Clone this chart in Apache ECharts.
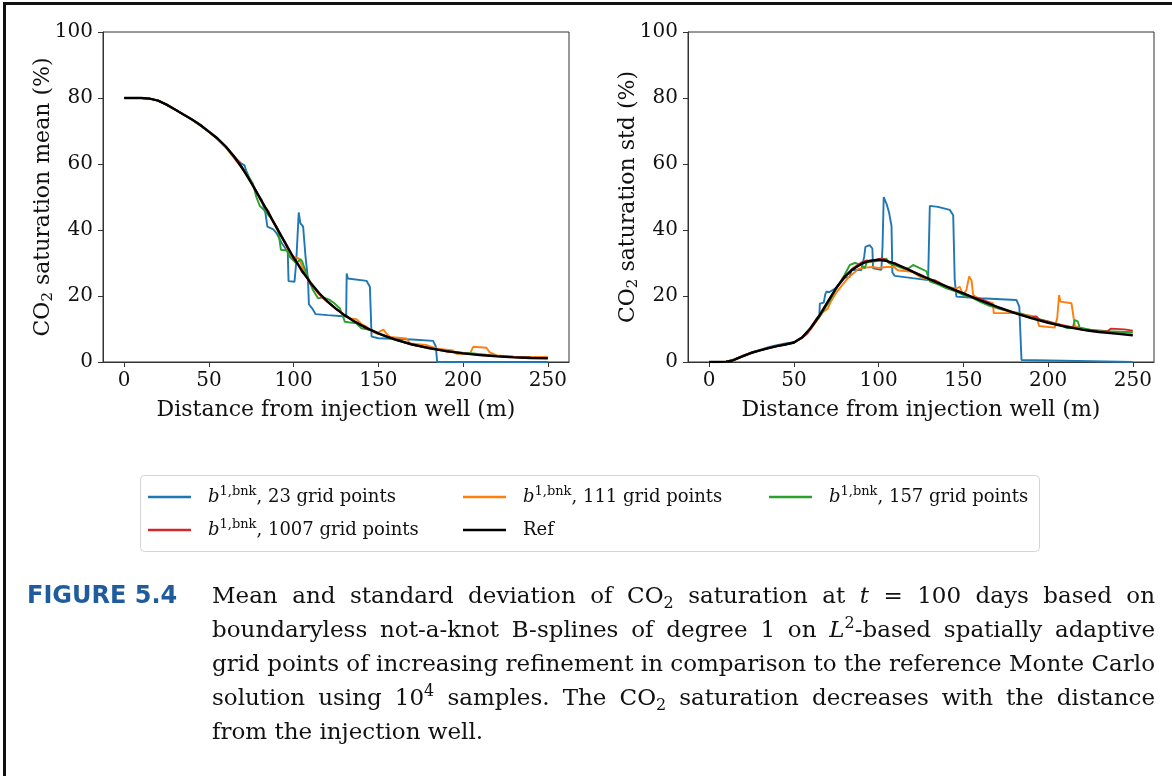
<!DOCTYPE html>
<html><head><meta charset="utf-8">
<script src="https://cdn.jsdelivr.net/npm/echarts@6/dist/echarts.min.js"></script>
<style>html,body{margin:0;padding:0;background:#fff}#c{width:1172px;height:776px}</style>
</head><body><div id="c"></div>
<script>
// ---------------- data ----------------
const xTicks = [0, 50, 100, 150, 200, 250];
const yLabelMean = 'CO{sub|2} saturation mean (%)';
const yLabelStd = 'CO{sub|2} saturation std (%)';
const xLabel = 'Distance from injection well (m)';
const seriesNames = ['b^1,bnk, 23 grid points', 'b^1,bnk, 111 grid points', 'b^1,bnk, 157 grid points', 'b^1,bnk, 1007 grid points', 'Ref'];
const legendTexts = ['23 grid points', '111 grid points', '157 grid points', '1007 grid points', 'Ref'];
const seriesColors = ['#1f77b4', '#ff7f0e', '#2ca02c', '#d62728', '#000000'];

// mean (left panel)
const blueMean = [[0,80],[10,80],[15,79.8],[20,79.2],[25,78],[30,76.5],[40,73.5],[50,69.8],[60,65.2],[65,62.2],[69,60.2],[71,59.6],[72,58],[75,54.5],[78,51.6],[81,49.2],[83.4,45],[84.5,41],[88,40.2],[90,39],[93,36],[96.5,33.5],[97,24.5],[100.5,24.3],[101.5,30],[103,45.3],[104,42],[105.6,41],[107,32],[108.5,24.8],[109,17.5],[111,16.2],[113,14.5],[120,14.2],[131,13.8],[131.3,26.8],[132,25.3],[143,24.6],[145,22.8],[146,7.7],[150,7.2],[170,6.8],[182.3,6.4],[183.9,4.7],[184.7,0],[250,0]];
const orangeMean = [[0,80],[10,80],[15,79.8],[20,79.2],[25,78],[30,76.5],[40,73.5],[50,69.8],[55,67.6],[60,65],[63,63],[66,61],[70,58.5],[75,54.5],[80,49.8],[85,45.5],[90,40.3],[95,36],[97,33.5],[98.5,32.2],[103,31.4],[105,29],[108,25.5],[110,23.7],[115,20.5],[120,18.2],[125,16.2],[130,14.2],[133,13.2],[137,13],[140,11.5],[143,10.7],[146,9.4],[149,8.6],[151,9.3],[153,9.8],[155,8.5],[156.7,7.6],[166.6,7.1],[168.6,5.6],[178,5.2],[185,4],[194,3.5],[196,2.5],[204,2.5],[206,4.6],[213.8,4.3],[215.7,2.9],[220,2],[230,1.6],[240,1.5],[250,1.5]];
const greenMean = [[0,80],[10,80],[15,79.8],[20,79.2],[25,78],[30,76.5],[40,73.5],[50,69.8],[55,67.6],[60,65],[65,62],[70,58.8],[73,56.5],[76,54],[78,50],[80,47.3],[83,45.8],[86,44],[88,42.5],[90.8,40],[92.5,34],[96,33.8],[97.7,31.9],[101.6,29.9],[104,31.2],[105,30.5],[107.5,26.9],[111.4,21.8],[114.4,19.3],[117.5,19.6],[121,18.9],[124,17.8],[127.2,16.3],[129,14],[130.2,12.2],[137,11.7],[140,10.2],[146.9,9.5],[150,8.6],[155,7.6],[160,6.7],[170,5.3],[180,4.1],[190,3.3],[200,2.8],[206,2.6],[210,2.4],[217.7,2],[220,1.8],[230,1.5],[240,1.3],[250,1.2]];
const redMean = [[0,80],[10,80],[15,79.8],[20,79.2],[25,78],[30,76.5],[35,75],[40,73.5],[45,71.8],[50,69.7],[55,67.7],[60,65.2],[65,62],[68,60.5],[70,58.3],[72,57],[75,54.3],[78,51.8],[80,49.5],[83,47],[85,45.8],[88,42.3],[90,40.8],[92,38.6],[95,36.3],[97,34.2],[100,31.3],[103,29.4],[105,27.2],[108,25.6],[110,23.5],[113,21.9],[115,20.6],[118,19.1],[120,18.4],[125,16.1],[128,15.1],[130,14.2],[133,13.3],[135,12.4],[140,11.2],[142,10.3],[145,9.9],[150,8.6],[160,6.9],[170,5.2],[180,4.3],[190,3.2],[200,2.7],[210,2.1],[220,1.8],[230,1.5],[240,1.3],[250,1.2]];
const refMean = [[0,80],[5,80],[10,80],[15,79.8],[20,79.2],[25,78],[30,76.5],[35,75],[40,73.5],[45,71.8],[50,69.8],[55,67.8],[60,65.3],[65,62.2],[70,58.5],[75,54.3],[80,49.8],[85,45.3],[90,40.7],[95,36.1],[100,31.6],[105,27.6],[110,24],[115,20.9],[120,18.3],[125,16.1],[130,14.2],[135,12.6],[140,11.1],[145,9.8],[150,8.7],[155,7.7],[160,6.8],[170,5.3],[180,4.2],[190,3.3],[200,2.6],[210,2.1],[220,1.7],[230,1.4],[240,1.2],[250,1.1]];

// std (right panel)
const blueStd = [[0,0],[10,0.1],[15,0.8],[20,1.9],[25,2.9],[30,3.7],[35,4.5],[40,5.1],[45,5.6],[50,6],[55,7.5],[60,10.3],[63,12.5],[65,13.9],[65.3,17.7],[67.6,18],[68.5,20.5],[69.2,21.3],[71,21.2],[75,22.5],[80,25.5],[83,25.8],[83.9,27.9],[89.8,27.9],[91.5,32],[92.2,34.9],[94.7,35.4],[96.3,34.4],[96.7,28.4],[101.6,27.9],[102.3,35],[103,50],[104.6,48],[106.2,45.2],[107.6,41.2],[108.1,27.1],[109.5,26.1],[120,25.4],[129.2,24.8],[130.2,47.3],[135,47],[142,46.1],[144,44.5],[144.9,24.8],[145.9,19.8],[160,19.3],[181.3,18.8],[183,16.8],[184.3,0.6],[185.3,0],[250,0]];
const orangeStd = [[0,0],[10,0.1],[15,0.7],[20,1.8],[25,2.8],[30,3.5],[40,4.8],[50,5.9],[55,7.3],[60,10],[65,13.5],[67,15],[70,16.2],[72,18.5],[75,21],[78,23],[82,25.5],[85,26.8],[88,28.2],[92,28.6],[96,28.8],[100,28.5],[104.7,28.8],[109,28.8],[111.3,27.8],[120,27.3],[124.5,25.8],[130.2,24.8],[140,22.8],[145.9,22.3],[147.9,22.8],[149.9,20.3],[151.8,21.8],[153.4,25.9],[154.8,24.8],[155.8,20.3],[160,18.9],[167.5,17.8],[167.9,14.8],[175.4,14.8],[180,14.9],[193.1,13.7],[194.7,10.9],[203.9,10.4],[205.4,13.4],[206.5,20.3],[207.3,18.3],[213.8,17.8],[215.8,10.9],[218.7,10.4],[225,9.5],[235,9.1],[250,8.9]];
const greenStd = [[0,0],[10,0.1],[15,0.7],[20,1.8],[25,2.8],[30,3.5],[40,4.8],[50,5.8],[55,7.6],[60,10.5],[65,13.7],[70,17.6],[75,22.2],[80,26.5],[83,29.4],[86,30],[89,29.6],[91.8,28.4],[93,30.2],[98,30.5],[101,30.8],[104.6,31.3],[106,30],[110,29.2],[115,28.2],[118,28.5],[120.3,29.4],[124,28.5],[128.2,27.5],[130.2,24.4],[135,23.5],[140,22.3],[145,21.5],[150,20.3],[155,19.5],[160,18.2],[165,17.1],[170,16.3],[177.4,15.3],[183.4,14.8],[190,13.6],[200,12.3],[207,11.3],[210.9,10.3],[214.5,10.3],[215.8,12.7],[217.5,12.3],[218.7,10.4],[225,9.8],[235,9.3],[250,9]];
const redStd = [[0,0],[10,0.1],[15,0.8],[20,1.9],[25,2.8],[30,3.5],[35,4.2],[40,4.8],[45,5.3],[50,5.9],[55,7.4],[58,8.6],[60,10.6],[63,12.9],[65,14.2],[70,18.4],[75,22.3],[80,26],[85,28.5],[90,30.2],[93,30.8],[95,30.4],[100,31.2],[103,31.3],[105,30.5],[110,29.9],[115,28.5],[120,27.5],[125,26.4],[130,25],[133,24.8],[135,24.3],[140,22.8],[145,21.9],[150,20.9],[155,19.6],[160,19.2],[163,18.5],[170,16.6],[180,15],[190,13.4],[193,13.8],[195,12.8],[200,12.2],[205,11.5],[210,11],[215,10.5],[220,9.8],[225,9.3],[230,9.2],[235,9.3],[237,10.1],[245,9.9],[250,9.5]];
const refStd = [[0,0],[5,0],[10,0.1],[13,0.3],[15,0.7],[20,1.8],[25,2.8],[30,3.5],[35,4.2],[40,4.8],[45,5.3],[50,5.9],[55,7.5],[60,10.3],[65,14],[70,18.2],[75,22.5],[80,25.8],[85,28.2],[90,29.8],[95,30.7],[100,31],[105,30.6],[110,29.7],[115,28.6],[120,27.4],[125,26.2],[130,25.1],[135,24],[140,22.9],[145,21.8],[150,20.8],[160,18.7],[170,16.7],[180,14.9],[190,13.3],[200,11.9],[210,10.7],[220,9.8],[230,9.1],[240,8.6],[250,8.1]];

const figureLabel = 'FIGURE 5.4';
const captionLines = [
  ['Mean','and','standard','deviation','of','CO{sub|2}','saturation','at','{it|t}','=','100','days','based','on'],
  ['boundaryless','not-a-knot','B-splines','of','degree','1','on','{it|L}{sup|2}-based','spatially','adaptive'],
  ['grid','points','of','increasing','refinement','in','comparison','to','the','reference','Monte','Carlo'],
  ['solution','using','10{sup|4}','samples.','The','CO{sub|2}','saturation','decreases','with','the','distance'],
  ['from','the','injection','well.']
];

// ---------------- chart ----------------
const SERIF = 'DejaVu Serif';
const INK = '#111';
const AX = '#333';
const chart = echarts.init(document.getElementById('c'), null, {renderer: 'canvas'});

const grids = [
  {left: 103, top: 32, width: 466, height: 330, show: true, borderColor: AX, borderWidth: 1, backgroundColor: 'transparent'},
  {left: 688, top: 32, width: 466, height: 330, show: true, borderColor: AX, borderWidth: 1, backgroundColor: 'transparent'}
];
function mkX(gi) {
  return {
    type: 'value', gridIndex: gi, min: -12.5, max: 262.5,
    name: xLabel, nameLocation: 'middle', nameGap: 35, nameMoveOverlap: false,
    nameTextStyle: {fontFamily: SERIF, fontSize: 22, color: INK, lineHeight: 26},
    axisLine: {show: true, onZero: false, lineStyle: {color: AX, width: 1}},
    axisTick: {show: true, inside: false, length: 5, customValues: xTicks, lineStyle: {color: AX, width: 1}},
    axisLabel: {show: true, customValues: xTicks, fontFamily: SERIF, fontSize: 20, color: INK, margin: 7, lineHeight: 24},
    splitLine: {show: false}
  };
}
function mkY(gi, label) {
  return {
    type: 'value', gridIndex: gi, min: 0, max: 100, interval: 20,
    name: label, nameLocation: 'middle', nameGap: 47, nameMoveOverlap: false,
    nameTextStyle: {fontFamily: SERIF, fontSize: 22, color: INK, lineHeight: 26,
      rich: {sub: {fontFamily: SERIF, fontSize: 15, color: INK, verticalAlign: 'bottom', lineHeight: 14}}},
    axisLine: {show: true, onZero: false, lineStyle: {color: AX, width: 1}},
    axisTick: {show: true, inside: false, length: 5, lineStyle: {color: AX, width: 1}},
    axisLabel: {fontFamily: SERIF, fontSize: 20, color: INK, margin: 10},
    splitLine: {show: false}
  };
}

const meanData = [blueMean, orangeMean, greenMean, redMean, refMean];
const stdData = [blueStd, orangeStd, greenStd, redStd, refStd];
const series = [];
[meanData, stdData].forEach((set, gi) => {
  set.forEach((d, i) => {
    series.push({
      type: 'line', name: seriesNames[i], xAxisIndex: gi, yAxisIndex: gi,
      data: d, showSymbol: false, symbol: 'none', clip: true,
      lineStyle: {color: seriesColors[i], width: i === 4 ? 2.4 : 1.9},
      itemStyle: {color: seriesColors[i]},
      z: 2 + i, animation: false, emphasis: {disabled: true}
    });
  });
});

// legends (one per entry, arranged in matplotlib-like columns)
const legendPos = [[148, 485], [463, 485], [769, 485], [148, 518], [463, 518]];
const legendRich = {
  b: {fontFamily: SERIF, fontSize: 18, fontStyle: 'italic', color: INK, lineHeight: 24, padding: [0, 0, 0, 12]},
  sup: {fontFamily: SERIF, fontSize: 13, color: INK, verticalAlign: 'top', lineHeight: 13},
  t: {fontFamily: SERIF, fontSize: 18, color: INK, lineHeight: 24},
  r: {fontFamily: SERIF, fontSize: 18, color: INK, lineHeight: 24, padding: [0, 0, 0, 12]}
};
const legends = seriesNames.map((nm, i) => ({
  data: [nm], left: legendPos[i][0], top: legendPos[i][1], padding: 0,
  itemWidth: 43, itemHeight: 2.5, icon: 'rect', selectedMode: false, z: 10,
  formatter: () => i === 4 ? '{r|' + legendTexts[i] + '}' : '{b|b}{sup|1,bnk}{t|, ' + legendTexts[i] + '}',
  textStyle: {fontFamily: SERIF, fontSize: 18, color: INK, lineHeight: 24, rich: legendRich}
}));

// caption layout (justified lines)
const capSize = 23;
const subSize = 16;
const capLeft = 212, capRight = 1155, capTop = 597, capStep = 34;
const meas = document.createElement('canvas').getContext('2d');
function partWidth(txt, style) {
  let size = capSize, ital = false;
  if (style === 'sub' || style === 'sup') size = subSize;
  if (style === 'it') ital = true;
  meas.font = (ital ? 'italic ' : '') + size + 'px "' + SERIF + '"';
  return meas.measureText(txt).width;
}
function tokenWidth(tok) {
  const re = /\{(\w+)\|([^}]*)\}|([^{]+)/g;
  let m, w = 0;
  while ((m = re.exec(tok)) !== null) {
    if (m[3] !== undefined) w += partWidth(m[3], null);
    else w += partWidth(m[2], m[1]);
  }
  return w;
}
const capRich = {
  sub: {fontFamily: SERIF, fontSize: subSize, fill: INK, color: INK, verticalAlign: 'bottom', lineHeight: 16},
  sup: {fontFamily: SERIF, fontSize: subSize, fill: INK, color: INK, verticalAlign: 'top', lineHeight: 16},
  it: {fontFamily: SERIF, fontSize: capSize, fontStyle: 'italic', fill: INK, color: INK, lineHeight: 30}
};
const graphics = [];
captionLines.forEach((words, li) => {
  const widths = words.map(tokenWidth);
  const total = widths.reduce((a, b) => a + b, 0);
  const last = li === captionLines.length - 1;
  const gap = last ? partWidth(' ', null) : Math.max(3, (capRight - capLeft - total) / (words.length - 1));
  let x = capLeft;
  words.forEach((w, wi) => {
    graphics.push({
      type: 'text', x: x, y: capTop + li * capStep, silent: true,
      style: {text: w, fontFamily: SERIF, fontSize: capSize, fill: INK, lineHeight: 30,
        verticalAlign: 'middle', align: 'left', rich: capRich}
    });
    x += widths[wi] + gap;
  });
});
graphics.push({
  type: 'text', x: 27, y: capTop, silent: true,
  style: {text: figureLabel, fontFamily: 'DejaVu Sans', fontWeight: 'bold', fontSize: 24,
    fill: '#1f5c9e', verticalAlign: 'middle', align: 'left'}
});
graphics.push({
  type: 'rect', silent: true, z: 1,
  shape: {x: 140.5, y: 475.5, width: 899, height: 76, r: 4},
  style: {fill: 'none', stroke: '#d4d4d4', lineWidth: 1}
});
graphics.push({
  type: 'polyline', silent: true,
  shape: {points: [[4.5, 776], [4.5, 3.5], [1172, 3.5]]},
  style: {stroke: '#111', lineWidth: 3, fill: null}
});

chart.setOption({
  backgroundColor: '#ffffff',
  animation: false,
  grid: grids,
  xAxis: [mkX(0), mkX(1)],
  yAxis: [mkY(0, yLabelMean), mkY(1, yLabelStd)],
  legend: legends,
  series: series,
  graphic: graphics
});
</script>
</body></html>
